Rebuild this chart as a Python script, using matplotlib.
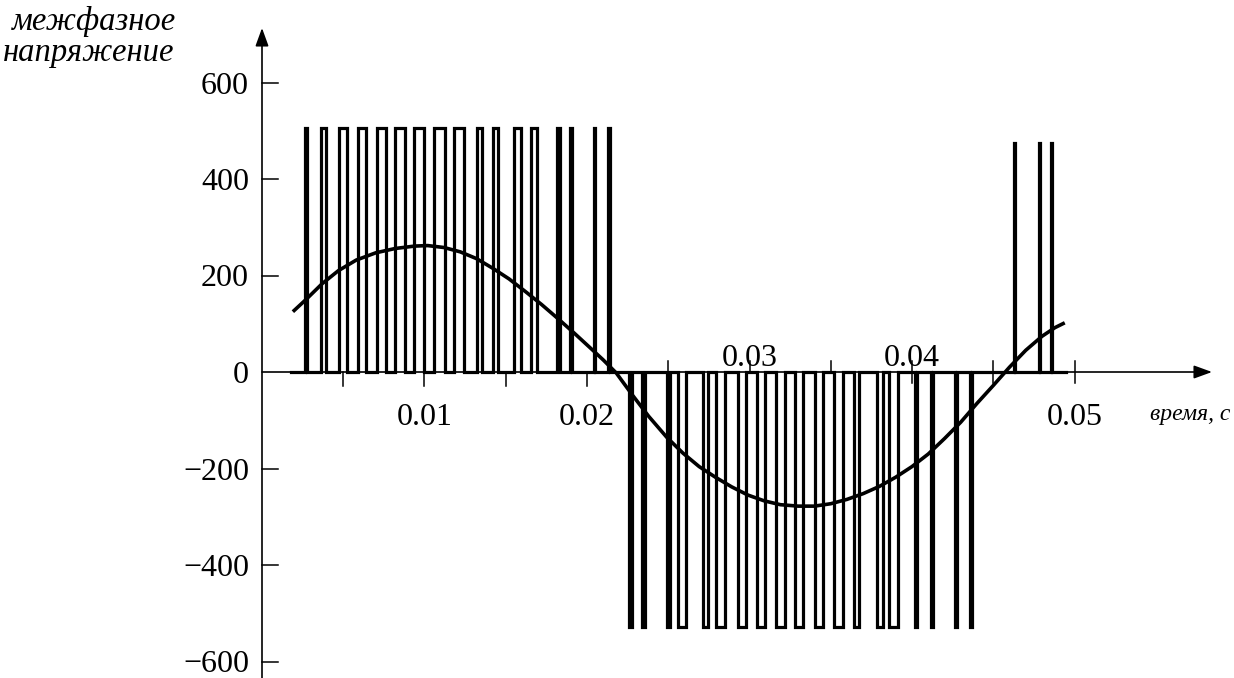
import numpy as np
import matplotlib
matplotlib.use("Agg")
import matplotlib.pyplot as plt

plt.rcParams['font.family'] = ['Liberation Serif', 'DejaVu Serif']

# PWM line-to-line voltage: pulse edges, ms
POS_ON = [2.62, 3.65, 4.76, 5.93, 7.10, 8.20, 9.37, 10.60, 11.83, 13.25, 14.23,
          15.53, 16.57, 18.16, 18.93, 20.46, 21.32]
POS_OFF = [2.79, 3.92, 5.21, 6.38, 7.61, 8.78, 9.95, 11.24, 12.41, 13.52, 14.51,
           15.92, 16.91, 18.33, 19.10, 20.52, 21.42]
NEG_ON = [22.60, 23.39, 24.93, 25.62, 27.16, 27.96, 29.31, 30.48, 31.65, 32.82,
          34.05, 35.22, 36.45, 37.87, 38.60, 40.16, 41.15, 42.62, 43.55]
NEG_OFF = [22.77, 23.56, 25.10, 26.07, 27.43, 28.47, 29.77, 30.94, 32.17, 33.27,
           34.51, 35.74, 36.72, 38.20, 39.12, 40.33, 41.32, 42.79, 43.72]
TAIL_ON = [46.25, 47.79, 48.55]
TAIL_OFF = [46.31, 47.85, 48.62]

POS_LEVEL = 506
NEG_LEVEL = -528
TAIL_LEVEL = 475
WAVE_START_MS = 1.8
WAVE_END_MS = 49.5

# fundamental component of the line voltage (ms, V)
FUND_T_MS = [1.9, 2.7, 3.7, 4.7, 5.8, 7.0, 8.2, 9.4, 10.2, 11.2, 12.2, 13.2, 14.2,
             15.2, 16.2, 17.2, 18.2, 19.2, 20.2, 21.0, 21.8, 22.8, 23.8, 24.9,
             25.9, 26.9, 27.9, 28.9, 29.9, 30.9, 31.9, 33.0, 34.0, 35.0, 36.0,
             37.0, 38.0, 39.0, 40.0, 41.0, 42.0, 43.0, 44.0, 45.0, 46.0, 47.0,
             48.0, 48.8, 49.4]
FUND_V = [125, 150, 183, 210, 232, 247, 256, 261, 262, 258, 249, 235, 215,
          193, 167, 140, 111, 81, 50, 25, -2, -48, -92, -135,
          -168, -196, -218, -238, -255, -267, -275, -278, -278, -273, -264,
          -252, -237, -218, -196, -170, -138, -104, -65, -28, 10, 45,
          74, 92, 102]

Y_TICKS = [600, 400, 200, 0, -200, -400, -600]
X_MINOR = [0.005, 0.010, 0.015, 0.020, 0.025, 0.030, 0.035, 0.040, 0.045, 0.050]
X_LABELS = ["0.01", "0.02", "0.03", "0.04", "0.05"]
X_LABEL_POS = [0.01, 0.02, 0.03, 0.04, 0.05]
X_LABEL_SIDE = ["below", "below", "above", "above", "below"]

# drawing scale: pixels per second and pixels per volt
PX_T = 16250.0
PX_V = 0.4825
DX = 1.0 / PX_T
DY = 1.0 / PX_V

fig = plt.figure(figsize=(12.34, 6.78), dpi=100)
ax = fig.add_axes([0, 0, 1, 1])
ax.set_xlim(-262 * DX, 972 * DX)
ax.set_ylim(-306 * DY, 372 * DY)
ax.axis('off')


def outline(start, end, groups):
    xs, ys = [start], [0]
    for ons, offs, level in groups:
        for a, b in zip(ons, offs):
            xs += [a, a, b, b]
            ys += [0, level, level, 0]
    xs.append(end)
    ys.append(0)
    return np.array(xs) / 1000.0, np.array(ys)


wx, wy = outline(WAVE_START_MS, WAVE_END_MS,
                 [(POS_ON, POS_OFF, POS_LEVEL),
                  (NEG_ON, NEG_OFF, NEG_LEVEL),
                  (TAIL_ON, TAIL_OFF, TAIL_LEVEL)])
ax.plot(wx, wy, color='black', lw=2.3, solid_joinstyle='miter', zorder=3)

ax.plot(np.array(FUND_T_MS) / 1000.0, FUND_V, color='black', lw=2.6,
        solid_capstyle='butt', zorder=4)

# axes with arrows
arrow = dict(arrowstyle='-|>,head_length=0.55,head_width=0.2', color='black',
             lw=1.2, mutation_scale=20, shrinkA=0, shrinkB=0)
ax.annotate('', xy=(0, 344 * DY), xytext=(0, -320 * DY), arrowprops=arrow, zorder=2)
ax.annotate('', xy=(950 * DX, 0), xytext=(0, 0), arrowprops=arrow, zorder=2)

tick_font = dict(fontsize=23, color='black')
for v in Y_TICKS:
    if v != 0:
        ax.plot([0, 16 * DX], [v, v], color='black', lw=1.1)
    ax.text(-13 * DX, v, f"{v}".replace('-', '\u2212'), ha='right',
            va='center_baseline', **tick_font)

for t in X_MINOR:
    if t <= 0.0201:
        y0, y1 = -14 * DY, 0
    elif t <= 0.0351:
        y0, y1 = 0, 11 * DY
    else:
        y0, y1 = -11 * DY, 11 * DY
    ax.plot([t, t], [y0, y1], color='black', lw=1.1)

for t, lab, side in zip(X_LABEL_POS, X_LABELS, X_LABEL_SIDE):
    if side == "below":
        ax.text(t, -31 * DY, lab, ha='center', va='top', **tick_font)
    else:
        ax.text(t, 6 * DY, lab, ha='center', va='baseline', **tick_font)

ax.text(-250 * DX, 342 * DY, "межфазное", ha='left', va='baseline',
        fontsize=23.5, fontstyle='italic')
ax.text(-259 * DX, 311 * DY, "напряжение", ha='left', va='baseline',
        fontsize=23.5, fontstyle='italic')
ax.text(888 * DX, -48 * DY, "время, с", ha='left', va='baseline',
        fontsize=17, fontstyle='italic')

fig.savefig("out.png", dpi=100, facecolor='white')
